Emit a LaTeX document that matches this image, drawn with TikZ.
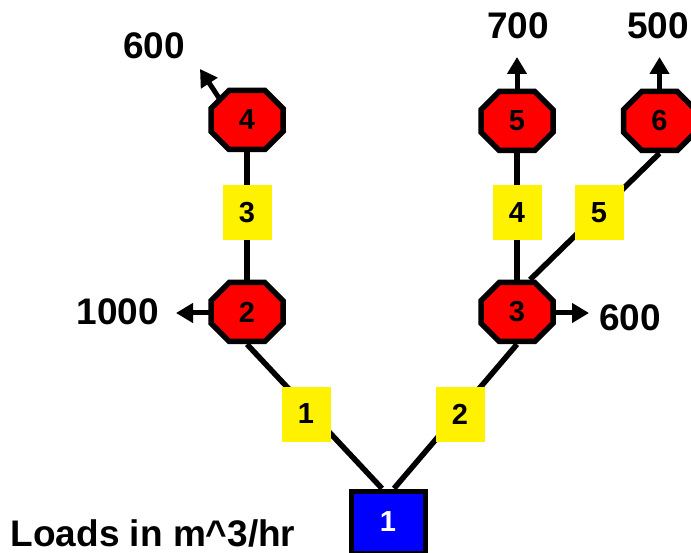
\documentclass[tikz,border=0pt]{standalone}
\usepackage{fontspec}
\setmainfont{Liberation Sans}
\usetikzlibrary{shapes.misc,arrows.meta,backgrounds}
\tikzset{
  junction/.style={chamfered rectangle, chamfered rectangle xsep=17pt, chamfered rectangle ysep=17pt,
    draw=black, line width=5.5pt, fill=red, minimum width=72pt, minimum height=59pt, inner sep=0pt,
    font=\fontsize{29}{30}\selectfont\bfseries},
  source/.style={rectangle, draw=black, line width=5pt, fill=blue, text=white, minimum width=74pt,
    minimum height=62pt, inner sep=0pt, font=\fontsize{29}{30}\selectfont\bfseries},
  pipe/.style={rectangle, fill=yellow, minimum width=49pt, minimum height=55pt, inner sep=0pt,
    font=\fontsize{29}{30}\selectfont\bfseries},
  conn/.style={line width=5.5pt, draw=black},
  flow/.style={line width=5pt, draw=black, -{Triangle[length=17pt,width=19pt]}},
  load/.style={font=\fontsize{37}{40}\selectfont\bfseries, inner sep=0pt}
}
\begin{document}
\begin{tikzpicture}[x=1pt,y=-1pt]
\useasboundingbox (0,0) rectangle (691,553);
% junction nodes
\node[junction] (n4) at (247,120) {4};
\node[junction] (n2) at (247,312) {2};
\node[junction] (n5) at (517,121) {5};
\node[junction] (n6) at (659.5,121) {6};
\node[junction] (n3) at (517,312) {3};
\node[source] (n1) at (388,522) {1};
% pipes
\node[pipe] (p1) at (306,414) {1};
\node[pipe] (p2) at (460,414) {2};
\node[pipe] (p3) at (247,213) {3};
\node[pipe] (p4) at (517,213) {4};
\node[pipe] (p5) at (599,213) {5};
% free ends of load arrows
\coordinate (a4) at (200,69);
\coordinate (a5) at (517,57);
\coordinate (a6) at (659.5,57);
\coordinate (a2) at (176,313);
\coordinate (a3) at (589,313);
% labels
\node[load] (l4) at (154,46) {600};
\node[load] (l5) at (518,26) {700};
\node[load] (l6) at (658,26) {500};
\node[load] (l2) at (118,312) {1000};
\node[load] (l3) at (630,318) {600};
\node[load] (title) at (153,533) {Loads in m\textasciicircum 3/hr};
\begin{scope}[on background layer]
  \draw[conn] (n2.south) -- ([xshift=-6pt]n1.north);
  \draw[conn] (n3.south) -- ([xshift=6pt]n1.north);
  \draw[conn] (n4.south) -- (n2.north);
  \draw[conn] (n5.south) -- (n3.north);
  \draw[conn] ([xshift=13pt]n3.north) -- (n6.south);
  \draw[flow] ([shift={(-28,-22)}]n4.center) -- (a4);
  \draw[flow] (n5.center) -- (a5);
  \draw[flow] (n6.center) -- (a6);
  \draw[flow] ([yshift=-1pt]n2.center) -- (a2);
  \draw[flow] ([yshift=-1pt]n3.center) -- (a3);
\end{scope}
\end{tikzpicture}
\end{document}
